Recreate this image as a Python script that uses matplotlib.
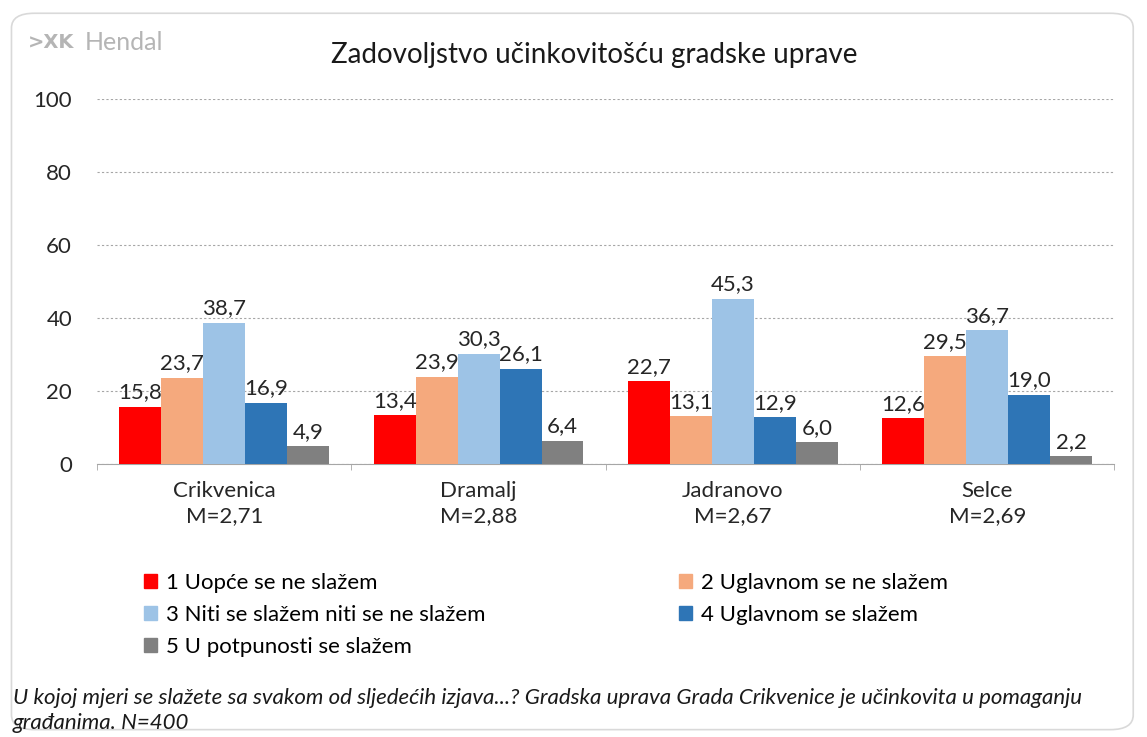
import matplotlib
matplotlib.use("Agg")
import matplotlib.pyplot as plt
import numpy as np
from matplotlib.patches import FancyBboxPatch, Patch

# ---------------------------------------------------------------------------
# Data
# ---------------------------------------------------------------------------
PLACES = ["Crikvenica", "Dramalj", "Jadranovo", "Selce"]
MEANS = ["2,71", "2,88", "2,67", "2,69"]
ANSWERS = [
    "1 Uopće se ne slažem",
    "2 Uglavnom se ne slažem",
    "3 Niti se slažem niti se ne slažem",
    "4 Uglavnom se slažem",
    "5 U potpunosti se slažem",
]
VALUES = [
    [15.8, 13.4, 22.7, 12.6],
    [23.7, 23.9, 13.1, 29.5],
    [38.7, 30.3, 45.3, 36.7],
    [16.9, 26.1, 12.9, 19.0],
    [4.9, 6.4, 6.0, 2.2],
]
COLORS = ["#FF0000", "#F5A97D", "#9DC3E6", "#2E75B6", "#808080"]
YTICKS = [0, 20, 40, 60, 80, 100]

FONT = "Lato"

fig = plt.figure(figsize=(11.47, 7.37), dpi=100)
fig.patch.set_facecolor("white")

# rounded frame around the whole chart (kept behind the axes)
frame = FancyBboxPatch((0.010, 0.01), 0.978, 0.972,
                       boxstyle="round,pad=0,rounding_size=0.02",
                       transform=fig.transFigure, fc="white",
                       ec="#D9D9D9", lw=1.2, zorder=-5)
fig.patches.append(frame)

ax = fig.add_axes([0.0846, 0.370, 0.887, 0.496])
ax.set_facecolor("none")

x = np.arange(len(PLACES))
bw = 0.165
for i, (vals, col) in enumerate(zip(VALUES, COLORS)):
    pos = x + (i - 2) * bw
    ax.bar(pos, vals, width=bw, color=col, zorder=3)
    for p, v in zip(pos, vals):
        ax.text(p, v + 1.2, f"{v:.1f}".replace(".", ","), ha="center",
                va="bottom", fontsize=16, family=FONT, color="#262626",
                zorder=4)

ax.set_xlim(-0.5, len(PLACES) - 0.5)
ax.set_ylim(0, 100)
ax.set_yticks(YTICKS)
ax.set_yticklabels([str(t) for t in YTICKS], fontsize=16, family=FONT,
                   color="#262626")
ax.yaxis.grid(True, ls=(0, (2, 2)), color="#A6A6A6", lw=0.8, zorder=0)
ax.set_xticks(x)
ax.set_xticklabels([f"{p}\nM={m}" for p, m in zip(PLACES, MEANS)],
                   fontsize=16, family=FONT, color="#262626",
                   linespacing=1.3)
ax.set_xticks(np.arange(len(PLACES) + 1) - 0.5, minor=True)
ax.tick_params(axis="x", which="major", length=0, pad=12)
ax.tick_params(axis="x", which="minor", length=4, color="#A6A6A6")
ax.tick_params(axis="y", length=0, pad=18)
for s in ("top", "right", "left"):
    ax.spines[s].set_visible(False)
ax.spines["bottom"].set_color("#A6A6A6")

# title and logo
fig.text(0.518, 0.925, "Zadovoljstvo učinkovitošću gradske uprave",
         ha="center", va="center", fontsize=20, family=FONT, color="#1a1a1a")
fig.text(0.024, 0.942, ">XK", ha="left", va="center", fontsize=14,
         family="DejaVu Sans", color="#B5B5B5", weight="bold")
fig.text(0.074, 0.942, "Hendal", ha="left", va="center", fontsize=18,
         family=FONT, color="#B5B5B5")

# legend: matplotlib fills columns first, so reorder for row-wise layout
handles = [Patch(color=c, label=l) for c, l in zip(COLORS, ANSWERS)]
order = [0, 2, 4, 1, 3]
fig.legend([handles[i] for i in order], [ANSWERS[i] for i in order],
           ncol=2, loc="upper left", bbox_to_anchor=(0.108, 0.25),
           frameon=False, prop={"family": FONT, "size": 16},
           handlelength=0.6, handleheight=0.6, handletextpad=0.4,
           columnspacing=8.7, labelspacing=0.55)

# footnote
fig.text(0.011, 0.053,
         "U kojoj mjeri se slažete sa svakom od sljedećih izjava...? Gradska "
         "uprava Grada Crikvenice je učinkovita u pomaganju",
         ha="left", va="center", fontsize=16, family=FONT, style="italic",
         color="#1a1a1a")
fig.text(0.011, 0.019, "građanima. N=400", ha="left", va="center",
         fontsize=16, family=FONT, style="italic", color="#1a1a1a")

fig.savefig("out.png", dpi=100)
